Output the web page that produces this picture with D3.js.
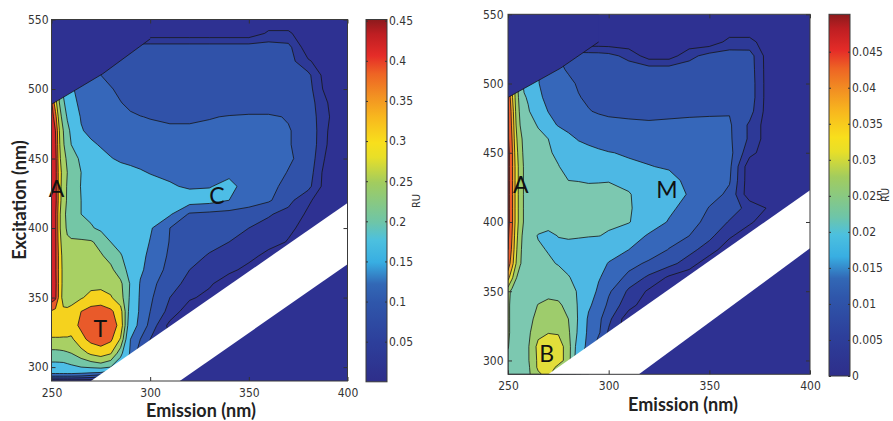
<!DOCTYPE html>
<html><head><meta charset="utf-8">
<script src="https://cdn.jsdelivr.net/npm/d3@7"></script>
<style>
body{margin:0;background:#fff}
svg{display:block}
.tk text{font-family:"Liberation Sans Narrow","Arial Narrow","DejaVu Sans Condensed",sans-serif;font-size:12px;fill:#333}
.tk line{stroke:#333}
</style></head>
<body><svg id="c" width="893" height="421"></svg>
<script>
// grid coordinates (nm)
const emission = [250,252,254,256,258,260,265,270,275,280,285,290,295,300,310,320,330,340,350,360,370,380,390,400];
const excitation = [290,295,300,310,320,330,340,350,360,370,380,390,400,410,420,430,440,450,460,470,480,490,500,510,520,530,540,550];

// left EEM (RU), one row per excitation wavelength
const leftValues = [
[0,0,0,0,0,0,0,0,0,0,0,0,0,0,0,0,0,0,0,0,0,0,0,0],
[.115,.115,.115,.115,.115,.115,.11,.1,.09,.06,.03,0,0,0,0,0,0,0,0,0,0,0,0,0],
[.18,.18,.18,.18,.185,.19,.2,.21,.22,.2,.15,.1,.06,.04,.02,0,0,0,0,0,0,0,0,0],
[.235,.235,.237,.24,.245,.25,.28,.31,.325,.305,.22,.11,.06,.04,.015,0,0,0,0,0,0,0,0,0],
[.295,.295,.295,.295,.295,.29,.335,.365,.375,.36,.295,.12,.08,.05,.02,.005,0,0,0,0,0,0,0,0],
[.33,.33,.33,.325,.325,.33,.36,.39,.395,.375,.335,.15,.105,.07,.01,0,0,0,0,0,0,0,0,0],
[.345,.335,.32,.31,.31,.315,.35,.37,.375,.36,.32,.17,.11,.08,.04,0,0,0,0,0,0,0,0,0],
[.43,.41,.33,.28,.275,.28,.295,.315,.32,.305,.27,.19,.11,.085,.05,.025,.01,0,0,0,0,0,0,0],
[.44,.415,.33,.285,.275,.275,.28,.285,.285,.28,.26,.195,.115,.09,.06,.042,.025,0,0,0,0,0,0,0],
[.44,.41,.33,.285,.27,.268,.27,.272,.27,.26,.225,.18,.13,.1,.07,.05,.04,.028,.01,0,0,0,0,0],
[.44,.41,.33,.28,.265,.26,.262,.263,.255,.235,.205,.17,.14,.105,.075,.058,.048,.04,.03,.01,0,0,0,0],
[.44,.41,.32,.27,.255,.255,.258,.255,.235,.2,.18,.16,.14,.118,.078,.065,.057,.05,.042,.032,.018,0,0,0],
[.44,.41,.31,.262,.245,.235,.215,.205,.19,.175,.165,.155,.14,.125,.08,.072,.066,.06,.05,.04,.026,.01,0,0],
[.44,.41,.31,.262,.24,.225,.2,.19,.18,.17,.162,.155,.145,.135,.125,.075,.07,.066,.06,.053,.04,.015,0,0],
[.44,.42,.32,.27,.245,.23,.2,.19,.18,.172,.165,.16,.155,.15,.145,.14,.135,.12,.1,.084,.06,.025,0,0],
[.44,.42,.32,.275,.245,.23,.198,.185,.175,.165,.155,.148,.14,.135,.124,.115,.118,.13,.105,.088,.072,.06,0,0],
[.44,.42,.32,.28,.25,.235,.2,.18,.16,.145,.135,.13,.124,.118,.112,.108,.108,.112,.1,.09,.079,.068,0,0],
[.44,.42,.31,.27,.24,.225,.19,.16,.138,.122,.114,.11,.107,.105,.102,.1,.1,.1,.095,.09,.083,.072,.01,0],
[.44,.41,.305,.255,.225,.2,.155,.13,.115,.108,.104,.1,.097,.095,.092,.09,.09,.09,.088,.085,.081,.074,.018,0],
[.43,.4,.3,.25,.215,.19,.125,.105,.098,.094,.091,.089,.087,.085,.083,.083,.084,.085,.085,.084,.081,.074,.02,0],
[.43,.37,.27,.23,.195,.17,.115,.1,.092,.088,.085,.082,.0805,.079,.077,.077,.079,.081,.082,.082,.079,.07,.022,0],
[.41,.32,.25,.21,.175,.15,.1,.092,.087,.083,.0805,.077,.073,.07,.068,.068,.069,.07,.071,.071,.07,.066,.02,0],
[.4,.3,.23,.19,.155,.13,.095,.088,.084,.081,.077,.074,.071,.069,.067,.067,.067,.068,.068,.068,.067,.063,.005,0],
[.4,.3,.22,.18,.15,.125,.09,.083,.08,.076,.073,.071,.07,.068,.067,.066,.066,.066,.066,.066,.065,.058,0,0],
[.4,.3,.22,.18,.15,.125,.09,.08,.075,.072,.07,.068,.067,.066,.066,.066,.066,.066,.066,.066,.064,.024,0,0],
[.066,.066,.066,.066,.066,.066,.066,.066,.066,.066,.066,.066,.066,.066,.066,.066,.066,.066,.066,.066,.06,0,0,0],
[0,0,0,0,0,0,0,0,0,0,0,0,0,0,0,0,0,0,0,.025,.025,0,0,0],
[0,0,0,0,0,0,0,0,0,0,0,0,0,0,0,0,0,0,0,0,0,0,0,0]
];

// right EEM (RU)
const rightValues = [
[.022,.022,.022,.022,.023,.024,.029,.032,.024,.013,.006,.002,0,0,0,0,0,0,0,0,0,0,0,0],
[.022,.022,.0215,.0215,.022,.024,.031,.034,.028,.016,.008,.003,0,0,0,0,0,0,0,0,0,0,0,0],
[.022,.022,.0215,.0215,.022,.0245,.031,.035,.033,.027,.016,.008,.003,0,0,0,0,0,0,0,0,0,0,0],
[.0255,.022,.0215,.0215,.022,.0245,.0315,.034,.033,.027,.017,.011,.006,.003,0,0,0,0,0,0,0,0,0,0],
[.026,.0235,.0213,.0213,.0218,.024,.0285,.0298,.0295,.0258,.019,.0115,.0085,.0045,0,0,0,0,0,0,0,0,0,0],
[.026,.0235,.0212,.0212,.0217,.0235,.0265,.0275,.0275,.025,.0195,.012,.0088,.0058,0,0,0,0,0,0,0,0,0,0],
[.026,.0235,.021,.021,.0215,.0225,.0252,.0262,.0258,.0235,.0195,.014,.0105,.0072,.0032,0,0,0,0,0,0,0,0,0],
[.027,.0235,.0215,.021,.021,.0215,.0225,.0235,.0232,.0218,.0195,.016,.012,.0085,.0045,.0015,0,0,0,0,0,0,0,0],
[.037,.031,.0255,.0225,.0215,.0212,.0215,.0218,.0213,.0203,.0185,.0165,.0135,.011,.0068,.0045,.0015,0,0,0,0,0,0,0],
[.043,.037,.03,.0255,.023,.0218,.021,.0205,.0198,.0185,.0172,.0158,.0143,.0128,.0095,.0072,.006,.0035,0,0,0,0,0,0],
[.045,.039,.031,.026,.023,.0215,.0205,.0198,.0192,.0185,.0175,.0165,.0155,.0145,.013,.0105,.0078,.006,.0035,0,0,0,0,0],
[.046,.04,.032,.0265,.0235,.0215,.0198,.0192,.0201,.0205,.0205,.0203,.0201,.0195,.0165,.0122,.0098,.008,.0058,.0025,0,0,0,0],
[.047,.041,.033,.0275,.0245,.0225,.0215,.0213,.0213,.0213,.0212,.0211,.021,.0208,.0203,.0165,.0125,.0095,.0068,.0048,.0025,0,0,0],
[.047,.041,.033,.0275,.0245,.0225,.0215,.0213,.0213,.0213,.0212,.0212,.0211,.021,.0205,.0175,.0142,.0108,.0078,.0062,.0042,.0015,0,0],
[.047,.041,.033,.0275,.0245,.0225,.0215,.0213,.0213,.0212,.0212,.0211,.0209,.0207,.0202,.0185,.0158,.0125,.0094,.0073,0,0,0,0],
[.047,.041,.033,.0275,.0245,.0225,.0212,.0206,.0202,.02,.0199,.0197,.0198,.0199,.0192,.0172,.0145,.0118,.0097,.0083,0,0,0,0],
[.047,.041,.033,.0275,.0245,.0225,.021,.0204,.0201,.0192,.0182,.0168,.0155,.0145,.0138,.0132,.0125,.0112,.0098,.0087,0,0,0,0],
[.047,.041,.032,.027,.024,.0222,.0208,.0203,.0195,.0178,.0162,.0148,.0138,.0132,.0125,.0118,.0112,.0105,.0098,.009,.003,0,0,0],
[.046,.04,.031,.0265,.0235,.022,.0207,.02,.0178,.0148,.0125,.0115,.011,.0105,.0098,.0094,.0092,.009,.0088,.0085,.0045,0,0,0],
[.046,.039,.03,.025,.0225,.021,.0198,.0155,.0125,.0108,.0097,.0092,.0088,.0086,.0084,.0083,.0084,.0085,.0085,.0084,.0045,0,0,0],
[.046,.038,.029,.024,.0215,.0205,.0168,.0128,.0105,.0094,.0086,.0081,.0078,.0076,.0075,.0074,.0075,.0076,.0077,.0078,.0062,0,0,0],
[.045,.036,.028,.023,.0205,.0195,.0145,.011,.0095,.0087,.0081,.0077,.0074,.0072,.0071,.007,.007,.0071,.0072,.0073,.0068,0,0,0],
[.045,.035,.027,.022,.019,.017,.0133,.0102,.0091,.0084,.0078,.0074,.0072,.007,.0069,.0068,.0068,.0069,.007,.007,.0068,0,0,0],
[.045,.035,.027,.022,.019,.017,.013,.0098,.0084,.0078,.0074,.0071,.0069,.0068,.0067,.0066,.0066,.0067,.0067,.0067,.0066,0,0,0],
[.045,.035,.027,.022,.019,.017,.013,.0095,.008,.0072,.0066,.0065,.0064,.006,.004,.0005,.0005,.004,.0062,.0065,.0064,0,0,0],
[0,0,0,0,0,0,0,0,0,0,0,0,0,0,0,0,0,0,0,.003,.003,0,0,0],
[0,0,0,0,0,0,0,0,0,0,0,0,0,0,0,0,0,0,0,0,0,0,0,0],
[0,0,0,0,0,0,0,0,0,0,0,0,0,0,0,0,0,0,0,0,0,0,0,0]
];

// contour levels and band colours
const leftLevels = [0.02, 0.05, 0.08, 0.12, 0.2, 0.25, 0.3, 0.35, 0.4];
const leftFills = ["#2E3192","#2D3997","#3052A9","#3667BA","#4DBDE6","#74C6A6","#A8D064","#F5D21E","#E95A2A","#D3232A"];
const rightLevels = [0.002, 0.005, 0.008, 0.013, 0.02, 0.025, 0.03, 0.035, 0.04, 0.045];
const rightFills = ["#2E3192","#2D3997","#3052A9","#3667BA","#4DB8E4","#7CC8B0","#9ECC6C","#E2DE3A","#F4A92A","#EC5A2A","#D0222A"];

// masked regions (emission, excitation)
const leftMask = [[250,489],[276,511],[300,536]];
const rightMask = [[250,490],[276,511],[295,530]];
const leftScatter = [[270,290],[400,418],[400,374],[315,290]];
const rightScatter = [[270,290],[400,423],[400,381],[315,290]];

// annotations
const leftPeaks = [{t:"A",em:252.5,ex:428},{t:"C",em:333.8,ex:423},{t:"T",em:274.7,ex:327.5}];
const rightPeaks = [{t:"A",em:256.3,ex:427},{t:"M",em:329,ex:423},{t:"B",em:269.2,ex:305}];

// ticks
const xTicks = [250,300,350,400];
const yTicks = [300,350,400,450,500,550];
const leftCbTicks = [0.05,0.1,0.15,0.2,0.25,0.3,0.35,0.4,0.45];
const rightCbTicks = [0,0.005,0.01,0.015,0.02,0.025,0.03,0.035,0.04,0.045];

// colormap stops (washed jet)
const jetStops = [[0,"#2E2E8A"],[0.11,"#2D3F9B"],[0.22,"#2F57AB"],[0.27,"#3268B6"],[0.33,"#38AEE2"],[0.39,"#4CC0DF"],[0.44,"#6EC5A8"],[0.55,"#A2CC5E"],[0.62,"#E8DF28"],[0.66,"#F8DF1C"],[0.73,"#F8B81E"],[0.79,"#F29022"],[0.85,"#EE6424"],[0.9,"#E52C28"],[0.96,"#BE1E22"],[1,"#8C1A1C"]];

const svg = d3.select("#c");
const defs = svg.append("defs");
const grad = defs.append("linearGradient").attr("id","jet").attr("x1",0).attr("y1",1).attr("x2",0).attr("y2",0);
grad.selectAll("stop").data(jetStops).join("stop").attr("offset",d=>d[0]).attr("stop-color",d=>d[1]);

const LINE = "#161616";
const NARROW = "'Liberation Sans Narrow','Arial Narrow','DejaVu Sans Condensed',sans-serif";

function drawPanel(o){
  const g = svg.append("g");
  const xS = d3.scaleLinear().domain([250,400]).range([o.x0,o.x1]);
  const yS = d3.scaleLinear().domain([290,550]).range([o.y1,o.y0]);
  const n = emission.length, m = excitation.length;
  const iEm = d3.scaleLinear().domain(d3.range(n)).range(emission).clamp(true);
  const iEx = d3.scaleLinear().domain(d3.range(m)).range(excitation).clamp(true);
  const path = d3.geoPath(d3.geoTransform({point(px,py){ this.stream.point(xS(iEm(px-0.5)), yS(iEx(py-0.5))); }}));
  defs.append("clipPath").attr("id","clip"+o.id).append("rect")
    .attr("x",o.x0).attr("y",o.y0).attr("width",o.x1-o.x0).attr("height",o.y1-o.y0);
  const plot = g.append("g").attr("clip-path",`url(#clip${o.id})`);
  plot.append("rect").attr("x",o.x0).attr("y",o.y0).attr("width",o.x1-o.x0).attr("height",o.y1-o.y0).attr("fill",o.fills[0]);
  const cs = d3.contours().size([n,m]).thresholds(o.levels)(o.values.flat());
  plot.selectAll("path.lev").data(cs).join("path").attr("class","lev")
    .attr("d",path).attr("fill",(d,i)=>o.fills[i+1])
    .attr("stroke",LINE).attr("stroke-width",0.8).attr("stroke-linejoin","round");
  const line = d3.line().x(d=>xS(d[0])).y(d=>yS(d[1]));
  const last = o.mask[o.mask.length-1];
  plot.append("path").attr("d",line(o.mask.concat([[last[0],550],[250,550]]))+"Z").attr("fill",o.fills[0]);
  plot.append("path").attr("d",line(o.mask)).attr("fill","none").attr("stroke",LINE).attr("stroke-width",0.8);
  plot.append("path").attr("d",line(o.scatter)+"Z").attr("fill","#fff");

  g.selectAll("text.pk").data(o.peaks).join("text").attr("class","pk")
    .attr("x",d=>xS(d.em)).attr("y",d=>yS(d.ex)).attr("text-anchor","middle").attr("dy","0.36em")
    .style("font-family","Lato, 'Open Sans', sans-serif").style("font-size","23px").style("fill","#111").text(d=>d.t);

  // axes
  const ax = g.append("g").attr("class","tk");
  ax.append("g").attr("transform",`translate(0,${o.y1})`)
    .call(d3.axisBottom(xS).tickValues(xTicks).tickSizeInner(-4).tickSizeOuter(0).tickPadding(7));
  ax.append("g").attr("transform",`translate(0,${o.y0})`)
    .call(d3.axisTop(xS).tickValues(xTicks).tickSizeInner(-4).tickSizeOuter(0).tickFormat(()=>""));
  ax.append("g").attr("transform",`translate(${o.x0},0)`)
    .call(d3.axisLeft(yS).tickValues(yTicks).tickSizeInner(-4).tickSizeOuter(0).tickPadding(o.ypad));
  ax.append("g").attr("transform",`translate(${o.x1},0)`)
    .call(d3.axisRight(yS).tickValues(yTicks).tickSizeInner(-4).tickSizeOuter(0).tickFormat(()=>""));
  ax.selectAll(".domain").remove();
  g.append("rect").attr("x",o.x0).attr("y",o.y0).attr("width",o.x1-o.x0).attr("height",o.y1-o.y0)
    .attr("fill","none").attr("stroke","#3a3a3a").attr("stroke-width",1);

  // colorbar
  const cb = o.cb;
  const cS = d3.scaleLinear().domain([0,cb.max]).range([cb.yb,cb.yt]);
  g.append("rect").attr("x",cb.x).attr("y",cb.top).attr("width",cb.w).attr("height",cb.yb-cb.top)
    .attr("fill","url(#jet)").attr("stroke","#3a3a3a").attr("stroke-width",1);
  const cax = g.append("g").attr("class","tk");
  cax.append("g").attr("transform",`translate(${cb.x+cb.w},0)`)
    .call(d3.axisRight(cS).tickValues(cb.ticks).tickSizeInner(-2).tickSizeOuter(0).tickPadding(2).tickFormat(d=>String(d)));
  cax.append("g").attr("transform",`translate(${cb.x},0)`)
    .call(d3.axisLeft(cS).tickValues(cb.ticks).tickSizeInner(-2).tickSizeOuter(0).tickFormat(()=>""));
  cax.selectAll(".domain").remove();
  g.append("text").attr("transform",`translate(${cb.labX},${cb.labY}) rotate(-90)`).attr("text-anchor","middle")
    .style("font-family",NARROW).style("font-size","11px").style("fill","#333").text("RU");

  g.append("text").attr("x",o.emX).attr("y",o.emY).attr("text-anchor","middle")
    .style("font-family","Lato, 'Open Sans', sans-serif").style("font-weight","bold").style("font-size","18px").style("fill","#222").text("Emission (nm)");
  if (o.exLabel) {
    g.append("text").attr("transform","translate(26,200) rotate(-90)").attr("text-anchor","middle")
      .style("font-family","Lato, 'Open Sans', sans-serif").style("font-weight","bold").style("font-size","18px").style("fill","#222").text("Excitation (nm)");
  }
}

drawPanel({id:"L", x0:51.5, x1:347.5, y0:19.5, y1:381, ypad:3, values:leftValues, levels:leftLevels, fills:leftFills,
  mask:leftMask, scatter:leftScatter, peaks:leftPeaks, emX:201, emY:417, exLabel:true,
  cb:{x:366, w:21, top:19.5, yb:381.8, yt:20.7, max:0.45, ticks:leftCbTicks, labX:420, labY:201}});
drawPanel({id:"R", x0:508, x1:810, y0:14.3, y1:374.3, ypad:4.5, values:rightValues, levels:rightLevels, fills:rightFills,
  mask:rightMask, scatter:rightScatter, peaks:rightPeaks, emX:683, emY:411, exLabel:false,
  cb:{x:829, w:21, top:14.3, yb:376, yt:51.7, max:0.045, ticks:rightCbTicks, labX:889, labY:195}});
</script>
</body></html>
